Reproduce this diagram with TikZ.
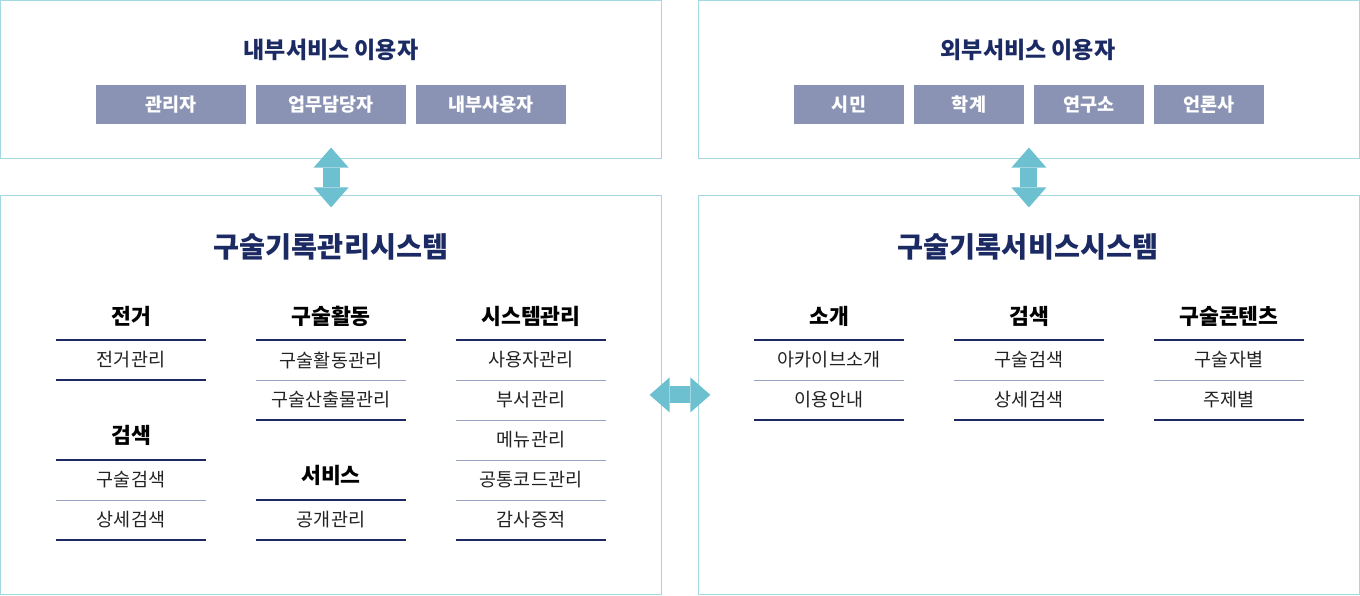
\documentclass[tikz,border=0pt]{standalone}
\usepackage{fontspec}
\setmainfont{Noto Sans CJK KR}
\usetikzlibrary{arrows.meta}
\definecolor{panelc}{HTML}{A3D8E0}
\definecolor{navy}{HTML}{1B2A63}
\definecolor{chipc}{HTML}{8A93B3}
\definecolor{sepc}{HTML}{98A3C4}
\definecolor{arrowc}{HTML}{6CC0CF}
\definecolor{itemc}{HTML}{222222}
\tikzset{
 panel/.style={draw=panelc, line width=1.2pt, inner sep=0pt, outer sep=0pt, anchor=north west},
 chip/.style={fill=chipc, text=white, inner sep=0pt, minimum height=39pt, font=\fontsize{18.5}{18.5}\selectfont\bfseries},
 toptitle/.style={text=navy, font=\fontsize{23}{23}\selectfont\bfseries},
 systitle/.style={text=navy, font=\fontsize{28.3}{28.3}\selectfont\bfseries},
 head/.style={text=black, font=\fontsize{21.6}{21.6}\selectfont\bfseries},
 item/.style={text=itemc, font=\fontsize{18.5}{18.5}\selectfont},
 headline/.style={draw=navy, line width=2.5pt},
 sepline/.style={draw=sepc, line width=1pt},
 endline/.style={draw=navy, line width=1.5pt},
 bigarrow/.style={draw=arrowc, line width=17pt,
   {Triangle[width=35pt,length=20pt,line width=0pt]}-{Triangle[width=35pt,length=20pt,line width=0pt]}}
}
\begin{document}
\begin{tikzpicture}[x=1pt,y=-1pt]
\useasboundingbox (0,0) rectangle (1360,595);
% panels
\node[panel, minimum width=661pt, minimum height=158pt] (tl) at (0.6,0.6) {};
\node[panel, minimum width=661pt, minimum height=158pt] (tr) at (698.4,0.6) {};
\node[panel, minimum width=661pt, minimum height=399pt] (bl) at (0.6,195.4) {};
\node[panel, minimum width=661pt, minimum height=399pt] (br) at (698.4,195.4) {};
% top left
\node[toptitle] (tlt) at (331,50) {내부서비스 이용자};
\node[chip, minimum width=150pt] (c1) at (171,104.5) {관리자};
\node[chip, minimum width=150pt] (c2) at (331,104.5) {업무담당자};
\node[chip, minimum width=150pt] (c3) at (491,104.5) {내부사용자};
% top right
\node[toptitle] (trt) at (1028,50) {외부서비스 이용자};
\node[chip, minimum width=110pt] (d1) at (849,104.5) {시민};
\node[chip, minimum width=110pt] (d2) at (969,104.5) {학계};
\node[chip, minimum width=110pt] (d3) at (1089,104.5) {연구소};
\node[chip, minimum width=110pt] (d4) at (1209,104.5) {언론사};
% arrows
\draw[bigarrow] ([yshift=11pt]tl.south) -- ([yshift=-12pt]bl.north);
\draw[bigarrow] ([yshift=11pt]tr.south) -- ([yshift=-12pt]br.north);
\draw[bigarrow] ([xshift=-12pt]bl.east) -- ([xshift=12pt]br.west);
% bottom left
\node[systitle] (blt) at (331,247) {구술기록관리시스템};
% col 1
\node[head] (h11) at (131,316) {전거};
\draw[headline] (56,340) -- (206,340);
\node[item] (i111) at (131,360) {전거관리};
\draw[endline] (56,380) -- (206,380);
\node[head] (h12) at (131,435) {검색};
\draw[headline] (56,460) -- (206,460);
\node[item] (i121) at (131,480) {구술검색};
\draw[sepline] (56,500) -- (206,500);
\node[item] (i122) at (131,520) {상세검색};
\draw[endline] (56,540) -- (206,540);
% col 2
\node[head] (h21) at (331,316) {구술활동};
\draw[headline] (256,340) -- (406,340);
\node[item] (i211) at (331,360) {구술활동관리};
\draw[sepline] (256,380) -- (406,380);
\node[item] (i212) at (331,400) {구술산출물관리};
\draw[endline] (256,420) -- (406,420);
\node[head] (h22) at (331,475) {서비스};
\draw[headline] (256,500) -- (406,500);
\node[item] (i221) at (331,520) {공개관리};
\draw[endline] (256,540) -- (406,540);
% col 3
\node[head] (h31) at (531,316) {시스템관리};
\draw[headline] (456,340) -- (606,340);
\node[item] (i311) at (531,360) {사용자관리};
\draw[sepline] (456,380) -- (606,380);
\node[item] (i312) at (531,400) {부서관리};
\draw[sepline] (456,420) -- (606,420);
\node[item] (i313) at (531,440) {메뉴관리};
\draw[sepline] (456,460) -- (606,460);
\node[item] (i314) at (531,480) {공통코드관리};
\draw[sepline] (456,500) -- (606,500);
\node[item] (i315) at (531,520) {감사증적};
\draw[endline] (456,540) -- (606,540);
% bottom right
\node[systitle] (brt) at (1028,247) {구술기록서비스시스템};
\node[head] (r1) at (829,316) {소개};
\draw[headline] (754,340) -- (904,340);
\node[item] (r11) at (829,360) {아카이브소개};
\draw[sepline] (754,380) -- (904,380);
\node[item] (r12) at (829,400) {이용안내};
\draw[endline] (754,420) -- (904,420);
\node[head] (r2) at (1029,316) {검색};
\draw[headline] (954,340) -- (1104,340);
\node[item] (r21) at (1029,360) {구술검색};
\draw[sepline] (954,380) -- (1104,380);
\node[item] (r22) at (1029,400) {상세검색};
\draw[endline] (954,420) -- (1104,420);
\node[head] (r3) at (1229,316) {구술콘텐츠};
\draw[headline] (1154,340) -- (1304,340);
\node[item] (r31) at (1229,360) {구술자별};
\draw[sepline] (1154,380) -- (1304,380);
\node[item] (r32) at (1229,400) {주제별};
\draw[endline] (1154,420) -- (1304,420);
\end{tikzpicture}
\end{document}
